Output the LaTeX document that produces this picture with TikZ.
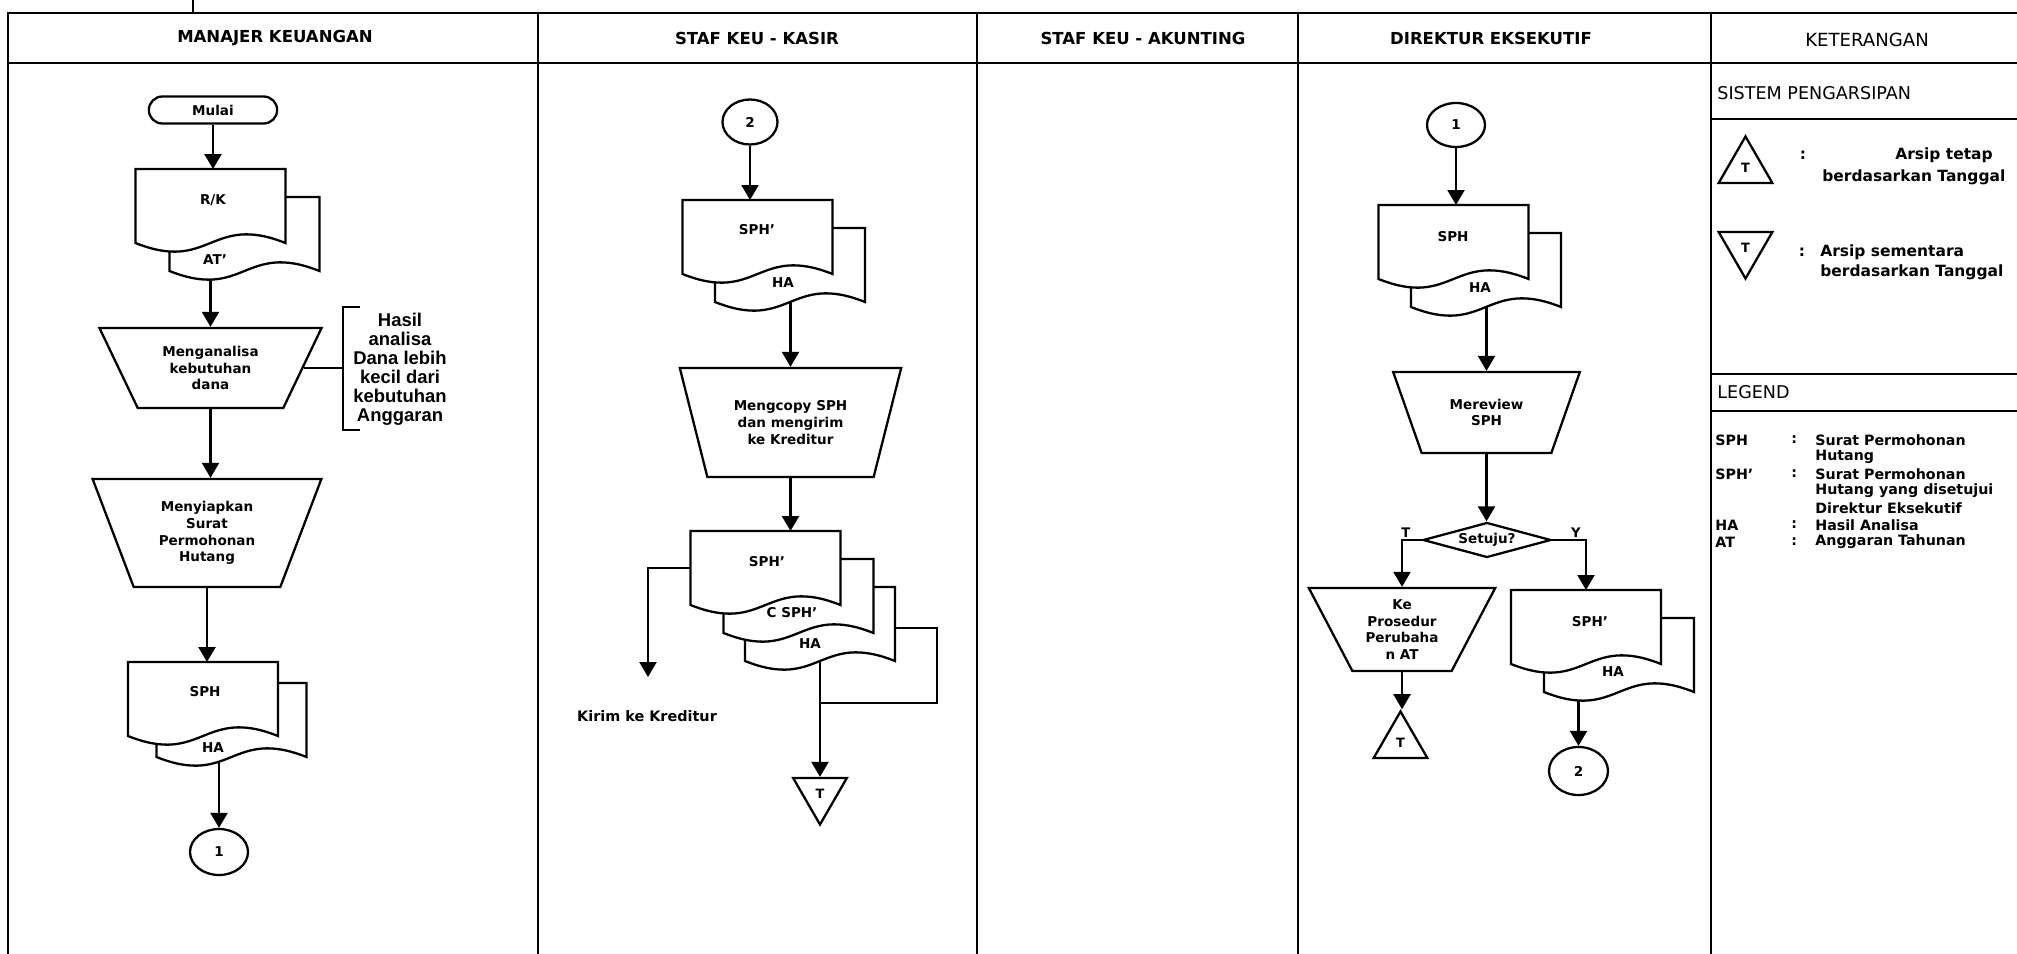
\documentclass[tikz,border=0pt]{standalone}
\usepackage{fontspec}
\setmainfont{DejaVu Sans}
\newfontfamily\arialfont{Liberation Sans}
\usetikzlibrary{shapes.geometric,shapes.misc,arrows.meta}

\pgfdeclarelayer{back}
\pgfdeclarelayer{docs}
\pgfsetlayers{back,docs,main}

\newcommand{\lblfont}{\bfseries\fontsize{7.7}{9.6}\selectfont}

\tikzset{
frame/.style={line width=1pt},
shapeline/.style={line width=1.3pt},
flow/.style={line width=1.3pt,-{Triangle[width=0.34cm,length=0.30cm]}},
proc/.style={trapezium,shape border rotate=180,trapezium stretches=true,
  draw,shapeline,fill=white,inner sep=1pt,align=center,font=\lblfont},
term/.style={rounded rectangle,draw,shapeline,fill=white,
  minimum width=2.80cm,minimum height=0.54cm,font=\lblfont},
conn/.style={ellipse,draw,shapeline,fill=white,inner sep=0pt,
  minimum width=1.16cm,minimum height=0.92cm,font=\lblfont},
dec/.style={diamond,aspect=3.66,draw,shapeline,fill=white,inner sep=1pt,
  minimum width=2.56cm,minimum height=0.70cm,font=\lblfont},
arsip/.style={regular polygon,regular polygon sides=3,draw,shapeline,fill=white,
  inner sep=0pt,minimum size=1.24cm,font=\bfseries\fontsize{7.3}{8}\selectfont},
docbox/.style={rectangle,inner sep=0pt,outer sep=0pt,
  minimum width=3.00cm,minimum height=1.48cm},
doctxt/.style={inner sep=1pt,font=\lblfont},
head/.style={font=\bfseries\fontsize{9.4}{11}\selectfont},
ket/.style={anchor=west,inner sep=0pt,font=\bfseries\fontsize{8.8}{10}\selectfont},
legtxt/.style={anchor=west,inner sep=0pt,font=\bfseries\fontsize{8.1}{9.6}\selectfont},
}

% document symbol with wavy bottom, drawn behind the labels
\newcommand{\docshape}[1]{%
\begin{pgfonlayer}{docs}
\filldraw[shapeline,fill=white]
(#1.north west) -- (#1.north east) -- (#1.south east)
.. controls ([yshift=0.6cm]#1.south) and ([yshift=-0.6cm]#1.south) .. (#1.south west)
-- cycle;
\end{pgfonlayer}}

\begin{document}
\begin{tikzpicture}[x=1cm,y=1cm]

\useasboundingbox (0,0) rectangle (40.34,-19.08);

%=================================================
% FRAME
%=================================================

\draw[frame]
(0.16,-19.08)--(0.16,-0.26)--(40.34,-0.26);

\draw[frame]
(0.16,-1.26)--(40.34,-1.26);

\draw[frame]
(3.86,0)--(3.86,-0.26);

% column dividers
\foreach \x in {10.76,19.54,25.96,34.22}
{
\draw[frame]
(\x,-0.26)--(\x,-19.08);
}

% keterangan rows
\foreach \y in {-2.38,-7.48,-8.22}
{
\draw[frame]
(34.22,\y)--(40.34,\y);
}

% column heads
\foreach \x/\txt [count=\i] in {5.50/MANAJER KEUANGAN,15.14/STAF KEU - KASIR,22.86/STAF KEU - AKUNTING,29.82/DIREKTUR EKSEKUTIF}
{
\node[head]
(head\i) at (\x,-0.76)
{\txt};
}

\node[font=\fontsize{10.3}{12}\selectfont]
(head5) at (37.34,-0.80)
{KETERANGAN};

%=================================================
% MANAJER KEUANGAN
%=================================================

\node[term]
(mulai) at (4.26,-2.20)
{Mulai};

% R/K + AT'
\node[docbox]
(rkb) at (4.89,-4.68)
{};
\docshape{rkb}
\node[docbox]
(rk) at (4.21,-4.12)
{};
\docshape{rk}

\node[doctxt]
(rkt) at (4.26,-4.00)
{R/K};
\node[doctxt]
(rkbt) at (4.30,-5.20)
{AT'};

\node[proc,trapezium angle=61.2,minimum width=4.46cm,minimum height=1.60cm]
(anal) at (4.21,-7.36)
{Menganalisa\\kebutuhan\\dana};

% note on the analysis
\coordinate (brk) at (6.86,-7.38);
\draw[frame]
(7.20,-6.14)--(6.86,-6.14)--(6.86,-8.60)--(7.20,-8.60);

\node[font=\arialfont\bfseries\fontsize{10.5}{10.8}\selectfont,align=center]
(hasil) at (8.00,-7.39)
{Hasil\\analisa\\Dana lebih\\kecil dari\\kebutuhan\\Anggaran};

\node[proc,trapezium angle=67.4,minimum width=4.60cm,minimum height=2.16cm]
(prep) at (4.14,-10.66)
{Menyiapkan\\Surat\\Permohonan\\Hutang};

% SPH + HA
\node[docbox]
(sphb) at (4.63,-14.40)
{};
\docshape{sphb}
\node[docbox]
(sph) at (4.06,-13.98)
{};
\docshape{sph}

\node[doctxt]
(spht) at (4.10,-13.84)
{SPH};
\node[doctxt]
(sphbt) at (4.26,-14.96)
{HA};

\node[conn]
(c1) at (4.38,-17.04)
{1};

%=================================================
% STAF KEU - KASIR
%=================================================

\node[conn,minimum width=1.10cm,minimum height=0.90cm]
(c2top) at (15.00,-2.44)
{2};

% SPH' + HA
\node[docbox]
(kspb) at (15.80,-5.30)
{};
\docshape{kspb}
\node[docbox]
(ksp) at (15.15,-4.74)
{};
\docshape{ksp}

\node[doctxt]
(kspt) at (15.14,-4.60)
{SPH'};
\node[doctxt]
(kspbt) at (15.66,-5.66)
{HA};

\node[proc,trapezium angle=67.8,minimum width=4.46cm,minimum height=2.18cm]
(copy) at (15.81,-8.45)
{Mengcopy SPH\\dan mengirim\\ke Kreditur};

% stack SPH' / C SPH' / HA
\begin{pgfonlayer}{docs}
\filldraw[shapeline,fill=white]
(16.40,-12.56) rectangle (18.74,-14.06);
\end{pgfonlayer}

\node[docbox]
(s3) at (16.40,-12.48)
{};
\docshape{s3}
\node[docbox]
(s2) at (15.97,-11.92)
{};
\docshape{s2}
\node[docbox]
(s1) at (15.31,-11.36)
{};
\docshape{s1}

\node[doctxt]
(s1t) at (15.34,-11.24)
{SPH'};
\node[doctxt]
(s2t) at (15.84,-12.26)
{C SPH'};
\node[doctxt]
(s3t) at (16.20,-12.88)
{HA};

\coordinate (kirim) at (12.96,-13.54);

\node[font=\bfseries\fontsize{8.2}{10}\selectfont]
(kirimtxt) at (12.94,-14.32)
{Kirim ke Kreditur};

\node[arsip,shape border rotate=180]
(kt) at (16.40,-15.87)
{T};

%=================================================
% DIREKTUR EKSEKUTIF
%=================================================

\node[conn,minimum height=0.88cm]
(d1) at (29.12,-2.50)
{1};

% SPH + HA
\node[docbox]
(dspb) at (29.72,-5.40)
{};
\docshape{dspb}
\node[docbox]
(dsp) at (29.07,-4.84)
{};
\docshape{dsp}

\node[doctxt]
(dspt) at (29.06,-4.74)
{SPH};
\node[doctxt]
(dspbt) at (29.60,-5.76)
{HA};

\node[proc,trapezium angle=61.2,minimum width=3.74cm,minimum height=1.62cm]
(review) at (29.73,-8.25)
{Mereview\\SPH};

\node[dec]
(setuju) at (29.74,-10.80)
{Setuju?};

\node[proc,trapezium angle=62.3,minimum width=3.74cm,minimum height=1.66cm]
(ke) at (28.04,-12.59)
{Ke\\Prosedur\\Perubaha\\n AT};

\node[arsip]
(ktri) at (28.01,-14.85)
{T};

% SPH' + HA
\node[docbox]
(yab) at (32.38,-13.10)
{};
\docshape{yab}
\node[docbox]
(ya) at (31.72,-12.54)
{};
\docshape{ya}

\node[doctxt]
(yat) at (31.80,-12.44)
{SPH'};
\node[doctxt]
(yabt) at (32.26,-13.44)
{HA};

\node[conn,minimum width=1.18cm,minimum height=0.96cm]
(c2) at (31.57,-15.42)
{2};

%=================================================
% KETERANGAN
%=================================================

\node[anchor=west,inner sep=0pt,font=\fontsize{10}{12}\selectfont]
(sistem) at (34.34,-1.86)
{SISTEM PENGARSIPAN};

% arsip tetap
\node[arsip]
(tup) at (34.91,-3.35)
{T};

\node[font=\bfseries\fontsize{8.8}{10}\selectfont]
(tupc) at (36.06,-3.10)
{:};
\node[ket,anchor=east]
(tupa) at (39.86,-3.10)
{Arsip tetap};
\node[ket]
(tupb) at (36.44,-3.54)
{berdasarkan Tanggal};

% arsip sementara
\node[arsip,shape border rotate=180]
(tdown) at (34.91,-4.95)
{T};

\node[font=\bfseries\fontsize{8.8}{10}\selectfont]
(tdownc) at (36.04,-5.04)
{:};
\node[ket]
(tdowna) at (36.40,-5.04)
{Arsip sementara};
\node[ket]
(tdownb) at (36.40,-5.44)
{berdasarkan Tanggal};

% legend
\node[anchor=west,inner sep=0pt,font=\fontsize{10}{12}\selectfont]
(legend) at (34.34,-7.84)
{LEGEND};

\foreach \ab/\i in {SPH/1,SPH'/3,HA/6,AT/7}
{
\node[legtxt]
(lega\i) at (34.30,{-8.80-0.34*(\i-1)})
{\ab};
\node[legtxt]
(legc\i) at (35.82,{-8.80-0.34*(\i-1)})
{:};
}

\foreach \txt [count=\i] in {Surat Permohonan,Hutang,Surat Permohonan,Hutang yang disetujui,Direktur Eksekutif,Hasil Analisa,Anggaran Tahunan}
{
\node[legtxt]
(legt\i) at (36.30,{-8.80-0.34*(\i-1)})
{\txt};
}

%=================================================
% CONNECTORS
%=================================================

\begin{pgfonlayer}{back}

\draw[flow] (mulai.south)--(mulai.south |- rk.north);
\draw[flow] (anal.north |- rkb.south)--(anal.north);
\draw[frame] (anal.east)--(anal.east -| brk);
\draw[flow] (anal.south)--(anal.south |- prep.north);
\draw[flow] (prep.south)--(prep.south |- sph.north);
\draw[flow] (c1.north |- sphb.south)--(c1.north);

\draw[flow] (c2top.south)--(c2top.south |- ksp.north);
\draw[flow] (copy.north |- kspb.south)--(copy.north);
\draw[flow] (copy.south)--(copy.south |- s1.north);
\draw[flow] (s1.west) -| (kirim);
\draw[flow] (kt.north |- s3.south)--(kt.north);

\draw[flow] (d1.south)--(d1.south |- dsp.north);
\draw[flow] (review.north |- dspb.south)--(review.north);
\draw[flow] (review.south)--(review.south |- setuju.north);
\draw[flow] (setuju.west) -| node[pos=0.4,above,inner sep=1pt,font=\bfseries\fontsize{7.5}{8}\selectfont] (tlab) {T} (ke.north);
\draw[flow] (setuju.east) -| node[pos=0.35,above,inner sep=1pt,font=\bfseries\fontsize{7.5}{8}\selectfont] (ylab) {Y} (ya.north);
\draw[flow] (ke.south)--(ke.south |- ktri.north);
\draw[flow] (c2.north |- yab.south)--(c2.north);

\end{pgfonlayer}

\end{tikzpicture}
\end{document}
